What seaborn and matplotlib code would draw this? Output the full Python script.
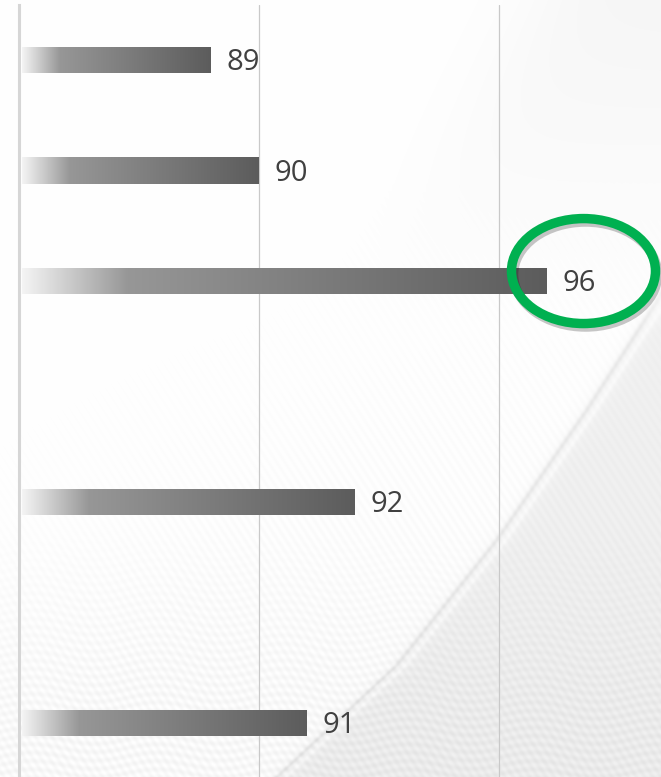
import numpy as np
import pandas as pd
import matplotlib
matplotlib.use("Agg")
import matplotlib.pyplot as plt
from matplotlib.colors import LinearSegmentedColormap
from matplotlib.patches import Ellipse
import matplotlib.patheffects as pe
import seaborn as sns

# ---- data -------------------------------------------------------------
categories = ["Item 1", "Item 2", "Item 3", "Item 4", "Item 5", "Item 6", "Item 7"]
scores = [89, 90, 96, np.nan, 92, np.nan, 91]
highlight = "Item 3"

# ---- style ------------------------------------------------------------
sns.set_theme(style="white")
plt.rcParams["font.family"] = ["Open Sans", "DejaVu Sans"]

W, H = 661, 777
fig = plt.figure(figsize=(W / 100, H / 100), dpi=100)

# ---- soft textured backdrop -----------------------------------------------
bg = fig.add_axes([0, 0, 1, 1], zorder=0)
yy, xx = np.mgrid[0:H, 0:W].astype(float)
img = np.ones((H, W))

# curved fold sweeping from the right edge down to the bottom
cy = np.array([-200, 300, 410, 540, 665, 777, 900])
cx = np.array([900, 661, 590, 500, 400, 280, 160])
xc = np.interp(yy, cy, cx)
d = xx - xc
shade = 1 / (1 + np.exp(-d / 6))
lower = np.clip((yy - 250) / 80, 0, 1)
img -= 0.055 * shade * lower
img -= 0.06 * np.exp(-((d + 4) / 3.0) ** 2) * lower
img += 0.02 * np.exp(-((d - 5) / 3.0) ** 2) * lower

# faint wedge in the upper right corner
d2 = xx - (540 - yy * 0.62)
img -= 0.035 * (1 / (1 + np.exp(-d2 / 30))) * np.clip(1 - yy / 330, 0, 1)

# fine diagonal ribbing, stronger towards the bottom
rib = 0.5 + 0.5 * np.sin((xx * 0.85 - yy * 0.55) * 0.9)
amp = 0.025 * np.clip((yy - 180) / 500, 0, 1) * np.clip((xx + yy - 300) / 500, 0, 1)
img -= amp * rib
wave = 0.5 + 0.5 * np.sin(yy * 0.75 + 3 * np.sin(xx * 0.05))
img -= 0.025 * np.clip((yy - 520) / 200, 0, 1) * wave

img = np.clip(img, 0, 1)
bg.imshow(np.dstack([img] * 3), extent=[0, W, H, 0], aspect="auto", interpolation="bilinear")
bg.set_xlim(0, W)
bg.set_ylim(H, 0)
bg.axis("off")

# ---- bar chart ------------------------------------------------------------
ax = fig.add_axes([19 / W, -1.25 / H, 642 / W, 773.5 / H], zorder=1)
ax.patch.set_alpha(0)

df = pd.DataFrame({"category": categories, "score": scores})
sns.barplot(data=df.dropna(), x="score", y="category", order=categories,
            orient="h", width=0.244, color="#666666", ax=ax)

x_min, x_max = 85, 98.375
px = 1 / 48  # one pixel in score units
cmap = LinearSegmentedColormap.from_list(
    "bar_fade", [(0.0, "#f4f4f4"), (0.07, "#d4d4d4"), (0.2, "#979797"), (1.0, "#5c5c5c")])
grad = np.linspace(0, 1, 256).reshape(1, -1)

for p in list(ax.patches):
    y0, h = p.get_y(), p.get_height()
    x1 = p.get_x() + p.get_width()
    im = ax.imshow(grad, cmap=cmap, extent=[x_min + 3 * px, x1, y0 + h, y0],
                   aspect="auto", interpolation="bilinear", zorder=2)
    im.set_clip_path(p)
    p.set_facecolor("none")
    p.set_edgecolor("none")
    ax.text(x1 + 16 * px, y0 + h / 2 + 0.025, f"{x1:.0f}", ha="left", va="center",
            fontsize=21, color="#404040", zorder=3)

ax.set_xlim(x_min, x_max)
ax.set_ylim(6.5, -0.5)
ax.set_xticks([85, 90, 95])
ax.grid(axis="x", color="#c9c9c9", lw=0.9)
ax.grid(axis="y", visible=False)
ax.set_axisbelow(True)
ax.tick_params(left=False, bottom=False, labelleft=False, labelbottom=False)
ax.set_xlabel("")
ax.set_ylabel("")
for side in ("top", "right", "bottom"):
    ax.spines[side].set_visible(False)
ax.spines["left"].set_color("#d6d6d6")
ax.spines["left"].set_linewidth(2.2)

# green ring around the top score
hi = categories.index(highlight)
ring = Ellipse((96.76, hi - 0.09), width=3.0, height=0.95, fill=False,
               edgecolor="#00b050", lw=6.8, clip_on=False, zorder=4,
               path_effects=[pe.SimpleLineShadow(offset=(1.5, -2.5), shadow_color="#000000", alpha=0.22),
                             pe.Normal()])
ax.add_patch(ring)

fig.savefig("out.png", dpi=100)
